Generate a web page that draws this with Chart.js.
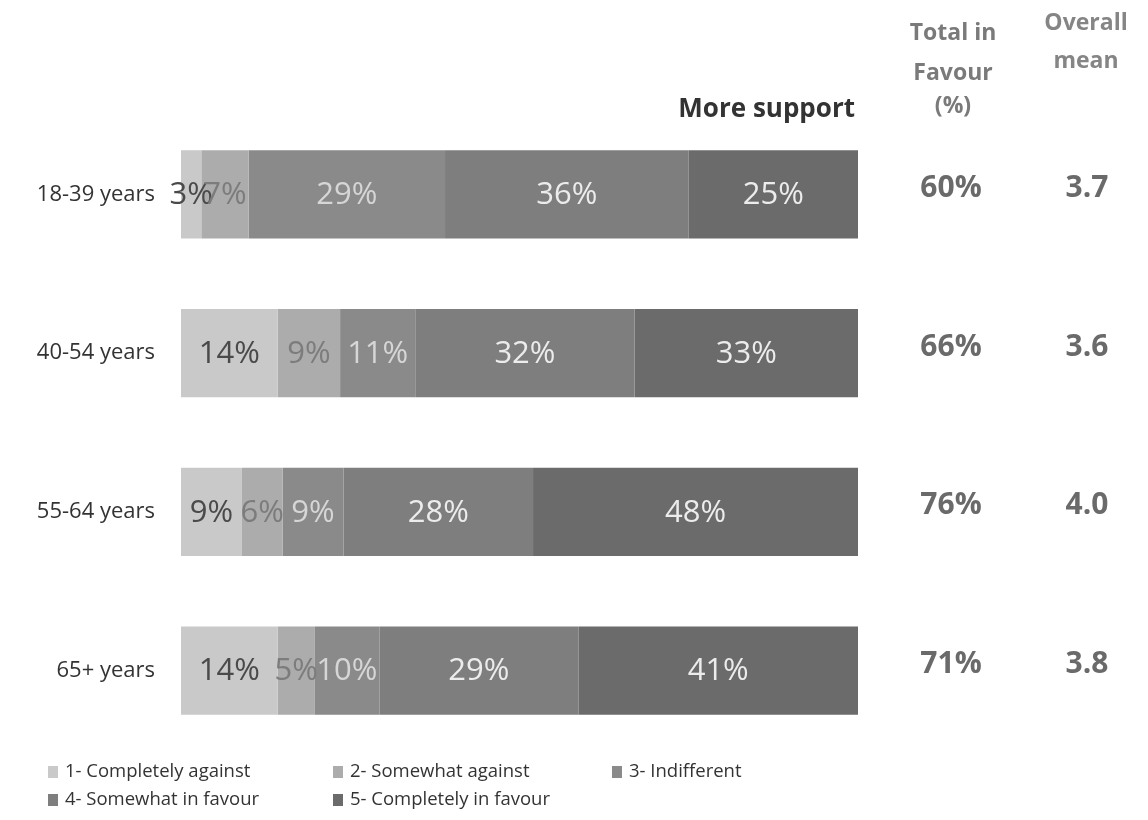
<!DOCTYPE html>
<html>
<head>
<meta charset="utf-8">
<script src="https://cdn.jsdelivr.net/npm/chart.js@4/dist/chart.umd.min.js"></script>
<style>
  html, body { margin: 0; padding: 0; background: #ffffff; }
  #wrap { width: 1148px; height: 820px; position: relative; }
</style>
</head>
<body>
<div id="wrap"><canvas id="c" width="1148" height="820"></canvas></div>
<script>
// ---- Data (segment shares; labels show rounded %) ----
const categories = ['18-39 years', '40-54 years', '55-64 years', '65+ years'];
const seriesNames = ['1- Completely against', '2- Somewhat against', '3- Indifferent', '4- Somewhat in favour', '5- Completely in favour'];
const completelyAgainst = [3, 14.3, 9, 14.3];
const somewhatAgainst = [7, 9.2, 6, 5.4];
const indifferent = [29, 11.1, 9, 9.6];
const somewhatInFavour = [36, 32.4, 28, 29.4];
const completelyInFavour = [25, 33.0, 48, 41.3];
const totalInFavour = ['60%', '66%', '76%', '71%'];
const overallMean = ['3.7', '3.6', '4.0', '3.8'];
const headerFavour = ['Total in', 'Favour', '(%)'];
const headerMean = ['Overall', 'mean'];
const moreSupportLabel = 'More support';

// ---- Styles ----
const FONT = "'Open Sans', 'Noto Sans', sans-serif";
const barColors = ['#c9c9c9', '#acacac', '#8a8a8a', '#7e7e7e', '#6b6b6b'];
const labelColors = ['#4a4a4a', '#7c7c7c', '#d6d6d6', '#ececec', '#ececec'];
const seriesValues = [completelyAgainst, somewhatAgainst, indifferent, somewhatInFavour, completelyInFavour];

const datasets = seriesValues.map((vals, i) => ({
  label: seriesNames[i],
  data: vals,
  backgroundColor: barColors[i],
  borderWidth: 0,
  barPercentage: 0.555,
  categoryPercentage: 1.0
}));

const overlayPlugin = {
  id: 'overlay',
  afterDatasetsDraw(chart) {
    const ctx = chart.ctx;
    ctx.save();
    // segment value labels
    ctx.textAlign = 'center';
    ctx.textBaseline = 'middle';
    ctx.font = '31px ' + FONT;
    chart.data.datasets.forEach((ds, di) => {
      const meta = chart.getDatasetMeta(di);
      meta.data.forEach((bar, i) => {
        const v = ds.data[i];
        const cx = (bar.x + bar.base) / 2;
        ctx.fillStyle = labelColors[di];
        ctx.fillText(Math.round(v) + '%', cx, bar.y + 1);
      });
    });
    // right columns
    const yScale = chart.scales.y;
    ctx.font = 'bold 30px ' + FONT;
    ctx.fillStyle = '#6a6a6a';
    categories.forEach((c, i) => {
      const y = yScale.getPixelForValue(i) - 6;
      ctx.fillText(totalInFavour[i], 951, y);
      ctx.fillText(overallMean[i], 1087, y);
    });
    // headers
    ctx.font = 'bold 23px ' + FONT;
    ctx.fillStyle = '#7a7a7a';
    ctx.textBaseline = 'alphabetic';
    const favY = [40, 80, 113];
    headerFavour.forEach((t, i) => ctx.fillText(t, 953, favY[i]));
    ctx.fillStyle = '#858585';
    const meanY = [30, 68];
    headerMean.forEach((t, i) => ctx.fillText(t, 1086, meanY[i]));
    ctx.textAlign = 'right';
    ctx.fillStyle = '#333333';
    ctx.font = 'bold 26px ' + FONT;
    ctx.fillText(moreSupportLabel, 855, 117);
    // legend
    ctx.textAlign = 'left';
    ctx.textBaseline = 'middle';
    ctx.font = '18.5px ' + FONT;
    const legX = [48, 333, 612];
    const legY = [772, 800];
    chart.data.datasets.forEach((ds, di) => {
      const col = di % 3, row = Math.floor(di / 3);
      const x = legX[col], y = legY[row];
      ctx.fillStyle = ds.backgroundColor;
      ctx.fillRect(x, y - 6, 10, 12);
      ctx.fillStyle = '#333333';
      ctx.fillText(ds.label, x + 17, y);
    });
    ctx.restore();
  }
};

new Chart(document.getElementById('c'), {
  type: 'bar',
  data: { labels: categories, datasets },
  options: {
    indexAxis: 'y',
    responsive: false,
    animation: false,
    layout: { padding: { top: 115, bottom: 70, left: 0, right: 290 } },
    plugins: { legend: { display: false }, tooltip: { enabled: false }, title: { display: false } },
    scales: {
      x: { stacked: true, min: 0, max: 100, display: false },
      y: {
        stacked: true,
        grid: { display: false, drawTicks: false },
        border: { display: false },
        ticks: { padding: 26, color: '#333333', font: { family: FONT, size: 22 } },
        afterFit(scale) { scale.width = 181; }
      }
    }
  },
  plugins: [overlayPlugin]
});
</script>
</body>
</html>
